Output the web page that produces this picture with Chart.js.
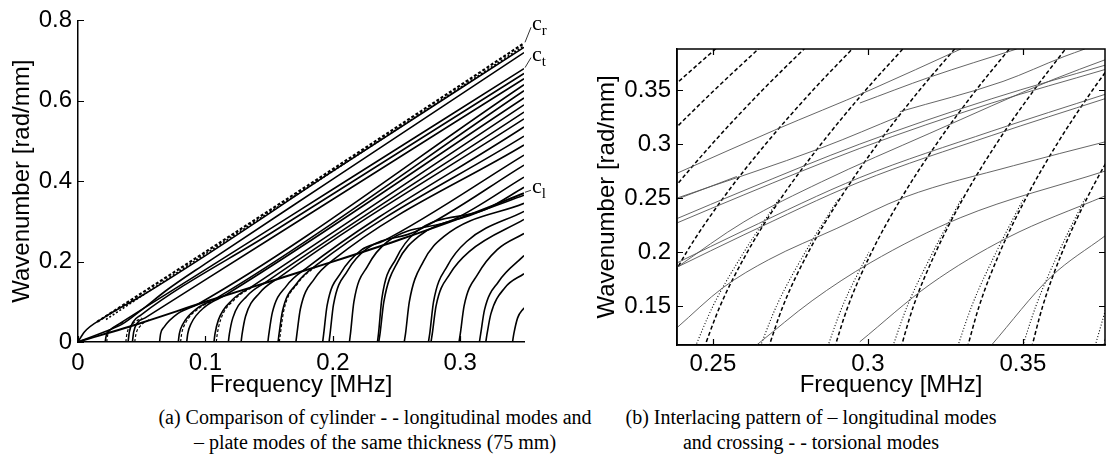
<!DOCTYPE html>
<html>
<head>
<meta charset="utf-8">
<script src="https://cdn.jsdelivr.net/npm/chart.js@4.4.0/dist/chart.umd.min.js"></script>
<style>
  html, body { margin: 0; padding: 0; background: #fff; }
  #wrap { position: relative; width: 1107px; height: 472px; overflow: hidden; }
  canvas { position: absolute; top: 0; }
  #left { left: 0; }
  #right { left: 560px; }
  .cap {
    position: absolute; color: #000; text-align: center; white-space: nowrap;
    font-family: 'Liberation Serif', 'Times New Roman', serif; font-size: 20px; line-height: 25px;
  }
</style>
</head>
<body>
<div id="wrap">
  <canvas id="left" width="560" height="400"></canvas>
  <canvas id="right" width="547" height="400"></canvas>
  <div class="cap" style="left:125px; width:500px; top:405px;">(a) Comparison of cylinder - - longitudinal modes and<br>– plate modes of the same thickness (75 mm)</div>
  <div class="cap" style="left:611px; width:400px; top:405px;">(b) Interlacing pattern of – longitudinal modes<br>and crossing - - torsional modes</div>
</div>
<script>
// ---- axes / ticks ----
const leftXTicks  = [0, 0.1, 0.2, 0.3];
const leftYTicks  = [0, 0.2, 0.4, 0.6, 0.8];
const rightXTicks = [0.25, 0.3, 0.35];
const rightYTicks = [0.15, 0.2, 0.25, 0.3, 0.35];

// ---- (a) plate modes, [frequency MHz, wavenumber rad/mm] ----
const plateFundamental = [
  [[0, 0], [0.005, 0.025], [0.02, 0.06], [0.05, 0.115], [0.1, 0.215], [0.2, 0.425], [0.35, 0.733]],
  [[0, 0], [0.02, 0.024], [0.035, 0.045], [0.05, 0.08], [0.07, 0.13], [0.1, 0.195], [0.2, 0.405], [0.35, 0.72]],
];
const plateBand = [[0, 0], [0.05, 0.048], [0.1, 0.1], [0.15, 0.15], [0.2, 0.2], [0.25, 0.252], [0.3, 0.308], [0.35, 0.37]];
const plateTopMode = [[0.0213, 0], [0.0223, 0.018], [0.026, 0.032], [0.0313, 0.043], [0.1, 0.18], [0.2, 0.38], [0.35, 0.68]];
const plateHigher = [
  [[0.0393, 0], [0.0403, 0.025], [0.0433, 0.05], [0.0493, 0.067], [0.15, 0.268], [0.35, 0.668]],
  [[0.0427, 0], [0.0437, 0.025], [0.0467, 0.048], [0.0527, 0.06], [0.15, 0.255], [0.35, 0.655]],
  [[0.064, 0], [0.0648, 0.02], [0.0675, 0.037], [0.0785, 0.071], [0.094, 0.094], [0.35, 0.64]],
  [[0.0787, 0], [0.0795, 0.02], [0.0822, 0.044], [0.0932, 0.083], [0.1087, 0.109], [0.35, 0.625]],
  [[0.0853, 0], [0.0861, 0.02], [0.0888, 0.046], [0.0998, 0.088], [0.1153, 0.116], [0.35, 0.607]],
  [[0.1067, 0], [0.1075, 0.02], [0.1102, 0.055], [0.1212, 0.105], [0.1367, 0.1385], [0.35, 0.59]],
  [[0.118, 0], [0.1188, 0.02], [0.1215, 0.06], [0.1325, 0.114], [0.148, 0.15], [0.35, 0.572]],
  [[0.128, 0], [0.1288, 0.02], [0.1315, 0.064], [0.1425, 0.122], [0.158, 0.161], [0.35, 0.555]],
  [[0.149, 0], [0.1498, 0.02], [0.1525, 0.073], [0.1635, 0.139], [0.179, 0.183], [0.35, 0.535]],
  [[0.157, 0], [0.1578, 0.02], [0.1605, 0.077], [0.1715, 0.145], [0.187, 0.191], [0.35, 0.512]],
  [[0.171, 0], [0.1718, 0.02], [0.1745, 0.082], [0.1855, 0.157], [0.201, 0.206], [0.35, 0.49]],
  [[0.192, 0], [0.1928, 0.02], [0.1955, 0.091], [0.2065, 0.173], [0.222, 0.228], [0.24, 0.252], [0.35, 0.465]],
  [[0.197, 0], [0.1978, 0.02], [0.2005, 0.093], [0.2115, 0.177], [0.227, 0.233], [0.265, 0.275], [0.35, 0.44]],
  [[0.213, 0], [0.2138, 0.02], [0.2165, 0.1], [0.2275, 0.19], [0.243, 0.25], [0.295, 0.305], [0.35, 0.41]],
  [[0.235, 0], [0.2358, 0.02], [0.2385, 0.109], [0.2495, 0.207], [0.265, 0.273], [0.32, 0.33], [0.35, 0.385]],
  [[0.236, 0], [0.237, 0.02], [0.24, 0.1], [0.251, 0.2], [0.267, 0.262], [0.31, 0.318], [0.35, 0.365]],
  [[0.256, 0], [0.257, 0.02], [0.26, 0.1], [0.271, 0.2], [0.287, 0.262], [0.35, 0.345]],
  [[0.275, 0], [0.276, 0.02], [0.279, 0.1], [0.29, 0.19], [0.305, 0.25], [0.35, 0.325]],
  [[0.277, 0], [0.278, 0.02], [0.281, 0.09], [0.292, 0.17], [0.307, 0.225], [0.35, 0.305]],
  [[0.299, 0], [0.3, 0.02], [0.303, 0.09], [0.314, 0.17], [0.329, 0.23], [0.35, 0.27]],
  [[0.315, 0], [0.316, 0.02], [0.319, 0.08], [0.33, 0.15], [0.35, 0.215]],
  [[0.32, 0], [0.321, 0.02], [0.324, 0.07], [0.335, 0.135], [0.35, 0.17]],
  [[0.341, 0], [0.342, 0.02], [0.345, 0.06], [0.35, 0.085]],
];
// cylinder longitudinal modes (dashed), mostly on top of the plate curves
const cylinderRayleigh = [[0.015, 0.05], [0.1, 0.224], [0.2, 0.43], [0.35, 0.743]];
const cylinderRayleigh2 = [[0.022, 0.056], [0.1, 0.219], [0.2, 0.425], [0.35, 0.737]];
const cylinderLow = [
  [[0.0225, 0], [0.0235, 0.02], [0.028, 0.036], [0.036, 0.05]],
  [[0.0375, 0], [0.0385, 0.022], [0.042, 0.042], [0.05, 0.06]],
  [[0.0445, 0], [0.0455, 0.02], [0.049, 0.04], [0.056, 0.056]],
  [[0.0805, 0], [0.0813, 0.02], [0.084, 0.045], [0.095, 0.084], [0.11, 0.108]],
  [[0.1085, 0], [0.1093, 0.02], [0.112, 0.056], [0.123, 0.106], [0.138, 0.139]],
  [[0.158, 0], [0.1588, 0.02], [0.1615, 0.078], [0.1725, 0.146], [0.188, 0.192]],
];

// ---- (b) cylinder longitudinal modes (thin solid) ----
const longModes = [
  [[0.2384, 0.13], [0.2532, 0.167], [0.268, 0.193], [0.29, 0.222], [0.312, 0.251], [0.347, 0.28], [0.3765, 0.302]],
  [[0.2384, 0.186], [0.26, 0.216], [0.2974, 0.265], [0.34, 0.308], [0.3765, 0.342]],
  [[0.2384, 0.19], [0.26, 0.22], [0.2974, 0.269], [0.34, 0.312], [0.3765, 0.346]],
  [[0.2384, 0.186], [0.26, 0.228], [0.285, 0.265], [0.32, 0.31], [0.36, 0.36], [0.3765, 0.378]],
  [[0.2384, 0.227], [0.26, 0.253], [0.2974, 0.296], [0.34, 0.338], [0.3765, 0.369]],
  [[0.2384, 0.231], [0.26, 0.257], [0.2974, 0.3], [0.34, 0.342], [0.3765, 0.373]],
  [[0.2384, 0.25], [0.2855, 0.297], [0.3103, 0.326]],
  [[0.2384, 0.249], [0.2577, 0.27]],
  [[0.2384, 0.273], [0.27, 0.313], [0.3007, 0.35], [0.33, 0.388]],
  [[0.2974, 0.338], [0.32, 0.362], [0.348, 0.388]],
  [[0.3103, 0.33], [0.3436, 0.358], [0.3633, 0.381], [0.37, 0.388]],
  [[0.2641, 0.114], [0.282, 0.155], [0.3007, 0.19], [0.33, 0.232], [0.3765, 0.275]],
  [[0.2974, 0.117], [0.32, 0.17], [0.3448, 0.213], [0.3765, 0.252]],
  [[0.3399, 0.114], [0.359, 0.177], [0.3765, 0.215]],
];
// torsional modes (dashed)
const torsModes = [
  [[0.2224, 0.35], [0.239, 0.39]],
  [[0.2173, 0.3], [0.2359, 0.35], [0.2516, 0.39]],
  [[0.2172, 0.25], [0.233, 0.3], [0.2505, 0.35], [0.2654, 0.39]],
  [[0.2221, 0.2], [0.2349, 0.25], [0.2497, 0.3], [0.266, 0.35], [0.2801, 0.39]],
  [[0.2319, 0.15], [0.2415, 0.2], [0.2533, 0.25], [0.267, 0.3], [0.2823, 0.35], [0.2956, 0.39]],
  [[0.2457, 0.1], [0.2523, 0.15], [0.2611, 0.2], [0.272, 0.25], [0.2849, 0.3], [0.2993, 0.35], [0.3119, 0.39]],
  [[0.2666, 0.1], [0.2726, 0.15], [0.2808, 0.2], [0.2911, 0.25], [0.3031, 0.3], [0.3167, 0.35], [0.3286, 0.39]],
  [[0.288, 0.1], [0.2936, 0.15], [0.3012, 0.2], [0.3108, 0.25], [0.3221, 0.3], [0.3349, 0.35], [0.3462, 0.39]],
  [[0.3095, 0.1], [0.3147, 0.15], [0.3219, 0.2], [0.3308, 0.25], [0.3414, 0.3], [0.3536, 0.35], [0.3643, 0.39]],
  [[0.331, 0.1], [0.3359, 0.15], [0.3426, 0.2], [0.351, 0.25], [0.361, 0.3], [0.3725, 0.35], [0.3827, 0.39]],
  [[0.3518, 0.1], [0.3564, 0.15], [0.3627, 0.2], [0.3707, 0.25], [0.3802, 0.3]],
  [[0.375, 0.1], [0.3793, 0.15]],
];
// plate shear modes (dotted), next to the torsional ones near the bottom
const shearModes = [
  [[0.2425, 0.1], [0.25, 0.15], [0.26, 0.2], [0.2715, 0.25]],
  [[0.2636, 0.1], [0.2705, 0.15], [0.2798, 0.2], [0.2906, 0.25]],
  [[0.2855, 0.1], [0.2918, 0.15], [0.3003, 0.2]],
  [[0.3065, 0.1], [0.3127, 0.15], [0.321, 0.2], [0.3303, 0.25]],
  [[0.3275, 0.1], [0.3335, 0.15], [0.3414, 0.2], [0.3503, 0.25]],
  [[0.3485, 0.1], [0.3542, 0.15], [0.3616, 0.2], [0.3701, 0.25]],
  [[0.372, 0.1], [0.377, 0.15]],
];

Chart.defaults.font.family = "'Liberation Sans', Arial, sans-serif";
Chart.defaults.font.size = 24;
Chart.defaults.color = '#000';

const toXY = pts => pts.map(p => ({ x: p[0], y: p[1] }));
const line = (pts, style) => Object.assign({
  data: toXY(pts), pointRadius: 0, fill: false, borderColor: '#000', borderWidth: 1.6,
  cubicInterpolationMode: 'monotone',
}, style);

// inward tick marks (and box for panel b)
const inwardTicks = {
  id: 'inwardTicks',
  afterDraw(chart, args, opts) {
    const { ctx, chartArea: a, scales: { x, y } } = chart;
    const len = 6;
    ctx.save();
    ctx.strokeStyle = '#000';
    ctx.lineWidth = 1.2;
    ctx.beginPath();
    x.ticks.forEach(t => {
      const px = Math.round(x.getPixelForValue(t.value)) + 0.5;
      ctx.moveTo(px, a.bottom); ctx.lineTo(px, a.bottom - len);
      if (opts.box) { ctx.moveTo(px, a.top); ctx.lineTo(px, a.top + len); }
    });
    y.ticks.forEach(t => {
      const py = Math.round(y.getPixelForValue(t.value)) + 0.5;
      ctx.moveTo(a.left, py); ctx.lineTo(a.left + len, py);
      if (opts.box) { ctx.moveTo(a.right, py); ctx.lineTo(a.right - len, py); }
    });
    ctx.stroke();
    if (opts.box) {
      ctx.lineWidth = 1.5;
      ctx.strokeRect(a.left, a.top, a.right - a.left, a.bottom - a.top);
    }
    ctx.restore();
  }
};

// c_r, c_t, c_l labels at the ends of the tagged curves
const speedLabels = {
  id: 'speedLabels',
  afterDatasetsDraw(chart) {
    const ctx = chart.ctx;
    chart.data.datasets.forEach((ds, i) => {
      if (!ds.speedLabel) return;
      const pts = chart.getDatasetMeta(i).data;
      const end = pts[pts.length - 1];
      const rise = { r: 18, t: 13, l: 5 }[ds.speedLabel];
      const lx = end.x + 8, base = end.y - rise + 5;
      ctx.save();
      ctx.strokeStyle = '#000';
      ctx.lineWidth = 0.8;
      ctx.beginPath();
      ctx.moveTo(end.x + 1, end.y - 1);
      ctx.lineTo(lx - 1, end.y - rise + 2);
      ctx.stroke();
      ctx.fillStyle = '#000';
      ctx.font = "22px 'Liberation Serif', serif";
      ctx.fillText('c', lx, base);
      const w = ctx.measureText('c').width;
      ctx.font = "15px 'Liberation Serif', serif";
      ctx.fillText(ds.speedLabel, lx + w, base + 5);
      ctx.restore();
    });
  }
};

function axis(ticks, min, max, title, fixed, titlePad, tickPad) {
  return {
    type: 'linear', min, max,
    afterBuildTicks: s => { s.ticks = ticks.map(v => ({ value: v })); },
    afterFit: s => { if (s.isHorizontal()) s.height = fixed; else s.width = fixed; },
    grid: { display: false, drawTicks: false },
    border: { display: true, color: '#000', width: 1.5 },
    ticks: { padding: tickPad, autoSkip: false, maxRotation: 0, callback: v => String(v) },
    title: { display: true, text: title, padding: { top: titlePad, bottom: 0 } },
  };
}

// ---- panel (a) ----
const leftSets = [];
leftSets.push(line(cylinderRayleigh, { borderDash: [3, 2], borderWidth: 2.2, speedLabel: 'r' }));
leftSets.push(line(cylinderRayleigh2, { borderDash: [2, 2], borderWidth: 1.6 }));
plateFundamental.forEach(c => leftSets.push(line(c)));
leftSets.push(line(plateTopMode, { speedLabel: 't' }));
plateHigher.forEach(c => leftSets.push(line(c)));
leftSets.push(line(plateBand, { borderWidth: 2, speedLabel: 'l' }));
cylinderLow.forEach(c => leftSets.push(line(c, { borderDash: [3, 2], borderWidth: 1.2 })));

new Chart(document.getElementById('left'), {
  type: 'line',
  data: { datasets: leftSets },
  options: {
    responsive: false, animation: false, devicePixelRatio: 1,
    layout: { padding: { top: 14, right: 36, bottom: 0, left: 0 } },
    plugins: { legend: { display: false }, tooltip: { enabled: false }, inwardTicks: { box: false } },
    scales: {
      x: axis(leftXTicks, 0, 0.35, 'Frequency [MHz]', 58, 0, 7),
      y: axis(leftYTicks, 0, 0.8, 'Wavenumber [rad/mm]', 78, 8, 6),
    },
  },
  plugins: [inwardTicks, speedLabels],
});

// ---- panel (b) ----
const rightSets = [];
longModes.forEach(c => rightSets.push(line(c, { borderColor: '#555', borderWidth: 0.9 })));
shearModes.forEach(c => rightSets.push(line(c, { borderDash: [1, 2], borderWidth: 1.1 })));
torsModes.forEach(c => rightSets.push(line(c, { borderDash: [4, 2.5], borderWidth: 1.5 })));

new Chart(document.getElementById('right'), {
  type: 'line',
  data: { datasets: rightSets },
  options: {
    responsive: false, animation: false, devicePixelRatio: 1,
    layout: { padding: { top: 49, right: 2, bottom: 0, left: 0 } },
    plugins: { legend: { display: false }, tooltip: { enabled: false }, inwardTicks: { box: true } },
    scales: {
      x: axis(rightXTicks, 0.2384, 0.3765, 'Frequency [MHz]', 55, 0, 5),
      y: axis(rightYTicks, 0.114, 0.388, 'Wavenumber [rad/mm]', 117, 33, 6),
    },
  },
  plugins: [inwardTicks],
});
</script>
</body>
</html>
